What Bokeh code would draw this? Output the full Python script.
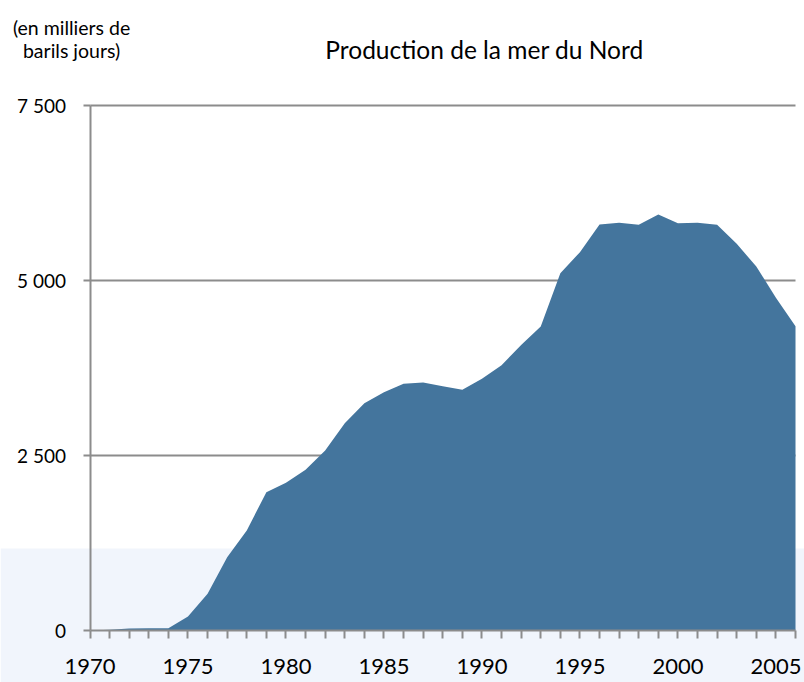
from bokeh.plotting import figure
from bokeh.models import FixedTicker, Range1d, Label, BoxAnnotation
from bokeh.embed import file_html
from bokeh.resources import INLINE

years = list(range(1970, 2007))
production = [0, 10, 30, 33, 33, 200, 524, 1048, 1430, 1976,
              2110, 2295, 2571, 2962, 3248, 3405, 3524, 3543, 3490, 3438,
              3595, 3790, 4080, 4343, 5105, 5405, 5800, 5824, 5795, 5943,
              5819, 5824, 5795, 5524, 5200, 4752, 4348]
y_ticks = [0, 2500, 5000, 7500]
y_tick_labels = ["0", "2 500", "5 000", "7 500"]
x_label_years = [1970, 1975, 1980, 1985, 1990, 1995, 2000, 2005]

title_text = "Production de la mer du Nord"
unit_line1 = "(en milliers de"
unit_line2 = "barils jours)"

FONT = "Lato"
GREY = "#8c8c8c"

# The frame covers the whole canvas; axes are pinned at their data origin
p = figure(width=804, height=682, output_backend="svg", toolbar_location=None,
           title=None,
           x_range=Range1d(1965.433, 2006.459), y_range=Range1d(-742.86, 9000),
           min_border_left=0, min_border_right=0, min_border_top=0,
           min_border_bottom=0)
p.outline_line_color = None
p.background_fill_color = "white"
p.border_fill_color = "white"

# faint light-blue backdrop in the lower part of the picture
p.add_layout(BoxAnnotation(top=1171, fill_color="#f1f5fc", fill_alpha=1.0,
                           line_color=None, level="underlay"))

p.varea(x=years, y1=0, y2=production, fill_color="#44759d", fill_alpha=1.0)

# axes
p.xaxis.fixed_location = 0
p.xaxis.bounds = (years[0], years[-1])
p.xaxis.ticker = FixedTicker(ticks=years)
p.xaxis.major_label_overrides = {y: (str(y) if y in x_label_years else "") for y in years}
p.xaxis.minor_tick_line_color = None
p.xaxis.major_tick_in = 0
p.xaxis.major_tick_out = 8
p.xaxis.major_label_standoff = 21
p.xaxis.major_label_text_font = FONT
p.xaxis.major_label_text_font_size = "22px"
p.xaxis.major_label_text_color = "black"

p.yaxis.fixed_location = years[0]
p.yaxis.bounds = (y_ticks[0], y_ticks[-1])
p.yaxis.ticker = FixedTicker(ticks=y_ticks)
p.yaxis.major_label_overrides = dict(zip(y_ticks, y_tick_labels))
p.yaxis.minor_tick_line_color = None
p.yaxis.major_tick_in = 0
p.yaxis.major_tick_out = 7
p.yaxis.major_label_standoff = 17
p.yaxis.major_label_text_font = FONT
p.yaxis.major_label_text_font_size = "19px"
p.yaxis.major_label_text_color = "black"

for ax in (p.xaxis[0], p.yaxis[0]):
    ax.axis_line_color = GREY
    ax.axis_line_width = 2
    ax.major_tick_line_color = GREY
    ax.major_tick_line_width = 2

p.xgrid.grid_line_color = None
p.ygrid.ticker = FixedTicker(ticks=y_ticks)
p.ygrid.cross_bounds = (years[0], years[-1])
p.ygrid.grid_line_color = GREY
p.ygrid.grid_line_width = 2

# title and unit note
p.add_layout(Label(x=1990.13, y=8304, text=title_text, text_font=FONT,
                   text_font_size="24.5px", text_align="center",
                   text_baseline="alphabetic", text_color="black"))
for txt, yy in ((unit_line1, 8620), (unit_line2, 8280)):
    p.add_layout(Label(x=1969.06, y=yy, text=txt, text_font=FONT,
                       text_font_size="19.5px", text_align="center",
                       text_baseline="alphabetic", text_color="black"))

open("out.html", "w").write(file_html(p, INLINE))
